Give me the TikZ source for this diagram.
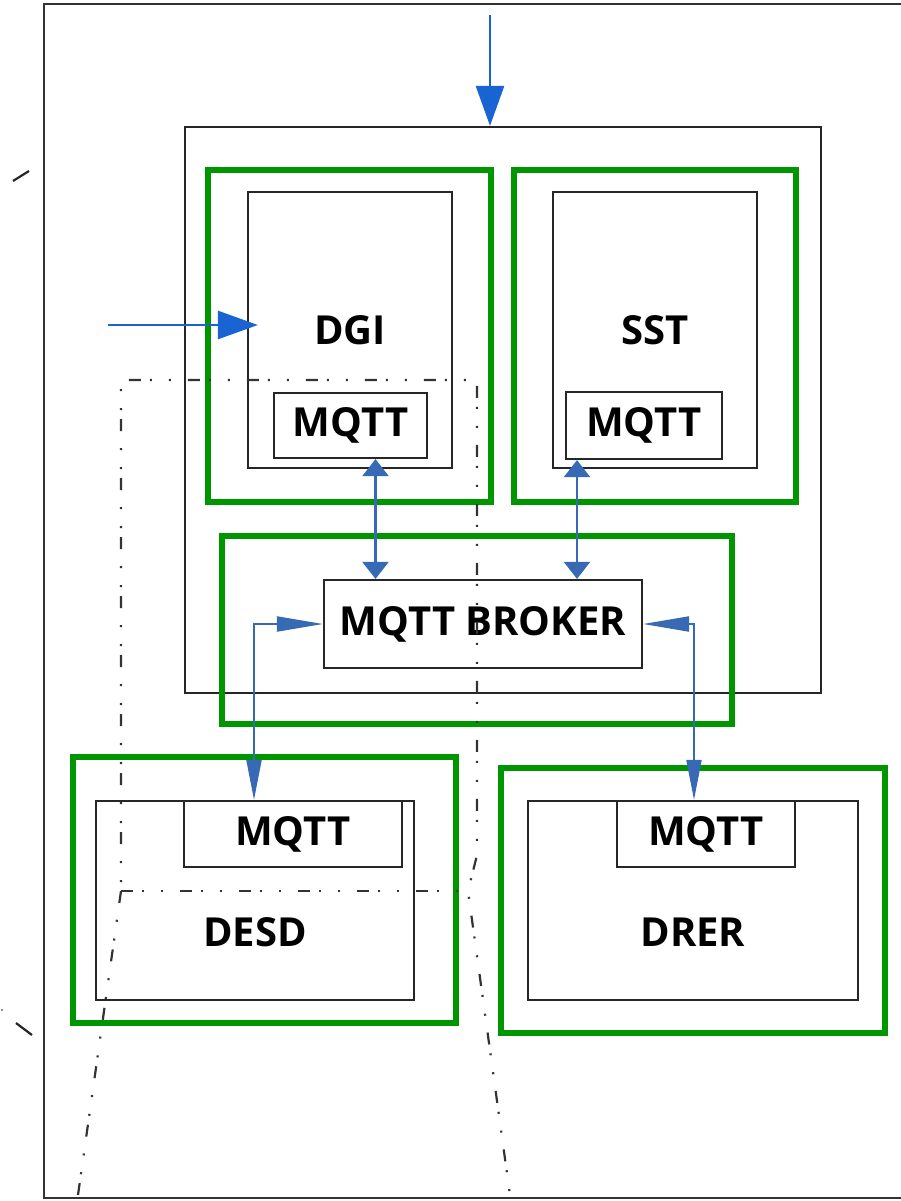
\documentclass[tikz,border=0pt]{standalone}
\usepackage{fontspec}
\setmainfont{Open Sans}
\usepackage{xcolor}
\usepackage{tikz}
\usetikzlibrary{arrows.meta}

\definecolor{boxgreen}{RGB}{0,150,0}
\definecolor{inblue}{RGB}{25,100,210}
\definecolor{linkblue}{RGB}{55,105,180}

\begin{document}
\begin{tikzpicture}[x=1pt,y=-1pt,
  greenbox/.style={draw=boxgreen,line width=6pt,inner sep=0pt},
  unitbox/.style={draw=black!85,line width=2.2pt,inner sep=0pt,
    font=\fontsize{40}{44}\selectfont\bfseries},
  unittext/.style={inner sep=0pt,font=\fontsize{40}{44}\selectfont\bfseries},
  inarr/.style={inblue,line width=2.6pt,-{Triangle[length=40pt,width=28pt]}},
  link/.style={linkblue,line width=2.2pt,
    {Triangle[length=17pt,width=26pt]}-{Triangle[length=17pt,width=26pt]}},
  elbowlink/.style={linkblue,line width=2pt,
    {Triangle[length=46pt,width=15pt]}-{Triangle[length=40pt,width=15pt]}},
  projline/.style={black!80,line width=2.2pt,
    dash pattern=on 12pt off 9pt on 2pt off 17pt on 2pt off 17pt}]
  \useasboundingbox (0,0) rectangle (901,1201);
  % Outer frame
  \draw[black!80,line width=2.4pt] (901,4)--(44,4)--(44,1198)--(901,1198);
  \draw[black!85,line width=2.2pt] (13,181)--(29,171);
  \draw[black!85,line width=2.2pt] (16,1023)--(32,1035);
  \fill[black!60] (2,1010) circle(1.2pt);
  % System box
  \node[draw=black!85,line width=2.2pt,inner sep=0pt,minimum width=636pt,
    minimum height=566pt] (sys) at (503,410) {};
  % DGI unit
  \node[greenbox,minimum width=283pt,minimum height=332pt] (dgigrn) at (349.5,336) {};
  \node[unitbox,minimum width=204pt,minimum height=276pt] (dgi) at (350,330) {DGI};
  \node[unitbox,minimum width=153pt,minimum height=65pt] (dgimqtt) at (350.5,425.5) {MQTT};
  % SST unit
  \node[greenbox,minimum width=282pt,minimum height=332pt] (sstgrn) at (655,336) {};
  \node[unitbox,minimum width=204pt,minimum height=276pt] (sst) at (655,330) {SST};
  \node[unitbox,minimum width=156pt,minimum height=67pt] (sstmqtt) at (644,425.5) {MQTT};
  % Broker
  \node[greenbox,minimum width=510pt,minimum height=188pt] (brkgrn) at (477,630) {};
  \node[unitbox,minimum width=318pt,minimum height=88pt] (broker) at (483,624) {MQTT BROKER};
  % DESD unit
  \node[greenbox,minimum width=383pt,minimum height=266pt] (desdgrn) at (264.5,890) {};
  \node[unitbox,minimum width=318pt,minimum height=199pt] (desd) at (255,900.5) {};
  \node[unitbox,minimum width=218pt,minimum height=66pt] (desdmqtt) at (293,834) {MQTT};
  \node[unittext] (desdlbl) at (255,932) {DESD};
  % DRER unit
  \node[greenbox,minimum width=384pt,minimum height=265pt] (drergrn) at (693,900.5) {};
  \node[unitbox,minimum width=330pt,minimum height=199pt] (drer) at (693,900.5) {};
  \node[unitbox,minimum width=178pt,minimum height=66pt] (drermqtt) at (706,834) {MQTT};
  \node[unittext] (drerlbl) at (693,932) {DRER};
  % Inputs
  \coordinate (topin) at (490,15);
  \coordinate (leftin) at (108,325);
  \draw[inarr] (topin)--(topin |- sys.north);
  \draw[inarr,shorten >=-11pt] (leftin)--(leftin -| dgi.west);
  % MQTT links
  \draw[link] ([xshift=25pt]dgimqtt.south)--([xshift=25pt]dgimqtt.south |- broker.north);
  \draw[link] ([xshift=-67pt]sstmqtt.south)--([xshift=-67pt]sstmqtt.south |- broker.north);
  \draw[elbowlink] (broker.west) -| ([xshift=-39pt]desdmqtt.north);
  \draw[elbowlink] (broker.east) -| ([xshift=-12pt]drermqtt.north);
  % Projection lines
  \draw[projline] (78,1195)--(121,891)--(121,380)--(477,380)--(477,855)--(468,891)--(510,1195);
  \draw[projline] (121,891)--(468,891);
\end{tikzpicture}
\end{document}
